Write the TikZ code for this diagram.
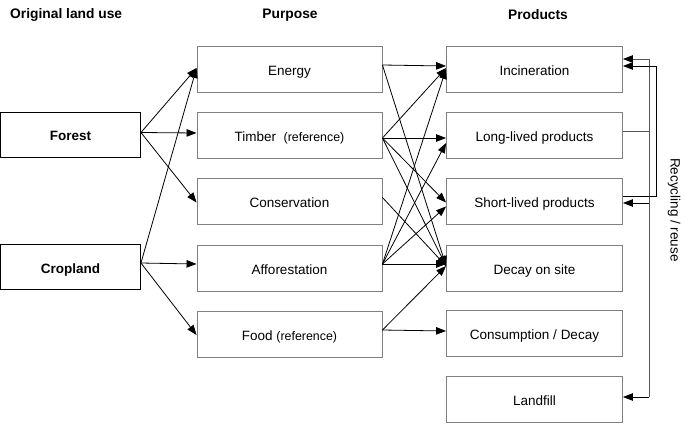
\documentclass[tikz,border=0pt]{standalone}
\usepackage{fontspec}
\setmainfont{Liberation Sans}
\usetikzlibrary{arrows.meta}
\begin{document}
\begin{tikzpicture}[x=1pt,y=-1pt,
  box/.style={draw=black!50, line width=0.9pt, minimum width=185pt, minimum height=46pt, inner sep=0pt, text height=12.4pt, text depth=0pt, font=\fontsize{13.5}{16}\selectfont},
  pbox/.style={box, minimum width=176pt},
  lbox/.style={box, draw=black, minimum width=140pt, minimum height=45pt, font=\fontsize{13.5}{16}\selectfont\bfseries},
  hdr/.style={font=\fontsize{13.8}{16}\selectfont\bfseries, inner sep=0pt},
  arr/.style={-{Triangle[length=10pt,width=7.5pt,color=black]}, line width=0.8pt},
  gline/.style={draw=black!65}
]
\useasboundingbox (0,0) rectangle (685,432);
\newcommand{\refsmall}{{\fontsize{12.4}{14}\selectfont (reference)}}
% headers
\node[hdr, anchor=west] (h1) at (10,15) {Original land use};
\node[hdr] (h2) at (290,15) {Purpose};
\node[hdr] (h3) at (538,15) {Products};
% left
\node[lbox] (forest) at (70.5,134.5) {Forest};
\node[lbox] (crop) at (70.5,267) {Cropland};
% purpose
\node[box] (energy) at (289.5,69) {Energy};
\node[box] (timber) at (289.5,135) {Timber\ \ \refsmall};
\node[box] (cons) at (289.5,201.5) {Conservation};
\node[box] (affor) at (289.5,268) {Afforestation};
\node[box] (food) at (289.5,334) {Food \refsmall};
% products
\node[pbox] (inc) at (534.5,69) {Incineration};
\node[pbox] (long) at (534.5,135) {Long-lived products};
\node[pbox] (short) at (534.5,201.5) {Short-lived products};
\node[pbox] (decay) at (534.5,268) {Decay on site};
\node[pbox] (consu) at (534.5,333.5) {Consumption / Decay};
\node[pbox] (land) at (534.5,399.5) {Landfill};
% recycling label
\node[rotate=-90, font=\fontsize{13.5}{16}\selectfont] (rl) at (674,210) {Recycling / reuse};
% left connectors
\draw[arr] ([yshift=2pt]forest.east) -- ([yshift=1pt]energy.west);
\draw[arr] ([yshift=2pt]forest.east) -- ([yshift=2pt]timber.west);
\draw[arr] ([yshift=2pt]forest.east) -- ([yshift=-1pt]cons.west);
\draw[arr] ([yshift=4pt]crop.east) -- ([yshift=1pt]energy.west);
\draw[arr] ([yshift=4pt]crop.east) -- ([yshift=4pt]affor.west);
\draw[arr] ([yshift=4pt]crop.east) -- ([yshift=-1pt]food.west);
% middle connectors
\draw[arr] ([yshift=4pt]energy.east) -- ([yshift=3pt]inc.west);
\draw[arr] ([yshift=4pt]energy.east) -- ([yshift=2pt]decay.west);
\draw[arr] ([yshift=-3pt]timber.east) -- ([yshift=1pt]inc.west);
\draw[arr] ([yshift=-3pt]timber.east) -- ([yshift=-3pt]long.west);
\draw[arr] ([yshift=-3pt]timber.east) -- ([yshift=-1pt]short.west);
\draw[arr] ([yshift=-3pt]timber.east) -- ([yshift=2pt]decay.west);
\draw[arr] ([yshift=4pt]cons.east) -- ([yshift=2pt]decay.west);
\draw[arr] ([yshift=4pt]affor.east) -- (inc.west);
\draw[arr] ([yshift=4pt]affor.east) -- ([yshift=-8pt]long.west);
\draw[arr] ([yshift=4pt]affor.east) -- ([yshift=-5pt]short.west);
\draw[arr] ([yshift=4pt]affor.east) -- ([yshift=4pt]decay.west);
\draw[arr] ([yshift=4pt]food.east) -- ([yshift=2pt]decay.west);
\draw[arr] ([yshift=4pt]food.east) -- ([yshift=2.5pt]consu.west);
% recycling
\coordinate (rtop) at (649,59);
\coordinate (rmid) at (649,203);
\coordinate (rbot) at (649,397);
\coordinate (btop) at (656,66);
\draw[arr, gline] ([yshift=4pt]long.east) -| (rtop) -- ([yshift=10pt]inc.east);
\draw[gline, line width=0.8pt] (rtop) -- (rbot);
\draw[arr] (rmid) -- ([yshift=-1.5pt]short.east);
\draw[arr] (rbot) -- ([yshift=2.5pt]land.east);
\draw[arr] ([yshift=5pt]short.east) -| (btop) -- ([yshift=3pt]inc.east);
\end{tikzpicture}
\end{document}
